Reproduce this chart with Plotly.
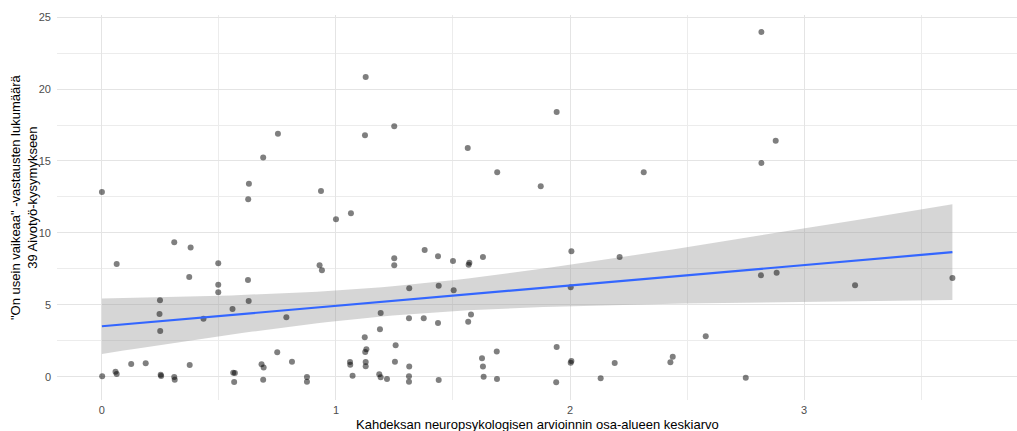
import numpy as np
import plotly.graph_objects as go

# Mean score over the eight neuropsychological sub-areas (jittered)
x_vals = [
    0.000, 0.625, 0.936, 0.628, 0.689, 0.752, 1.000, 1.064, 0.309, 0.379,
    0.063, 0.497, 0.930, 0.940, 0.373, 0.624, 0.497, 0.497, 0.248, 0.627,
    0.558, 0.246, 0.434, 0.788, 0.249, 0.749, 0.812, 0.125, 0.187, 0.375,
    0.682, 0.691, 1.060, 1.061, 0.058, 0.063, 0.001, 0.251, 0.253, 0.309,
    0.311, 0.561, 0.568, 0.565, 0.689, 0.876, 0.876, 1.071, 1.127, 1.124,
    1.249, 1.563, 1.943, 1.689, 1.875, 1.379, 1.249, 1.249, 1.436, 1.500,
    1.570, 1.567, 1.628, 2.006, 2.212, 1.313, 1.439, 1.503, 2.003, 1.191,
    1.312, 1.375, 1.436, 1.577, 1.565, 1.188, 1.123, 1.255, 1.130, 1.125,
    1.687, 1.943, 1.624, 1.127, 1.127, 1.252, 1.313, 1.628, 2.006, 2.003,
    2.191, 1.185, 1.191, 1.218, 1.312, 1.312, 1.439, 1.631, 1.688, 1.941,
    2.131, 2.818, 2.879, 2.818, 2.315, 2.816, 2.883, 3.218, 3.634, 2.580,
    2.439, 2.429, 2.751,
]

# Number of "On usein vaikeaa" answers (jittered)
y_vals = [
    12.85, 12.34, 12.92, 13.42, 15.25, 16.90, 10.95, 11.37, 9.35, 9.00,
    7.85, 7.90, 7.76, 7.41, 6.94, 6.74, 6.41, 5.88, 5.32, 5.28,
    4.72, 4.37, 4.05, 4.15, 3.19, 1.71, 1.06, 0.90, 0.95, 0.83,
    0.88, 0.65, 1.04, 0.85, 0.37, 0.21, 0.05, 0.16, 0.07, 0.00,
    -0.19, 0.30, 0.28, -0.35, -0.19, 0.00, -0.33, 0.09, 20.83, 16.78,
    17.41, 15.90, 18.40, 14.21, 13.24, 8.82, 8.24, 7.76, 8.38, 8.06,
    7.94, 7.80, 8.33, 8.73, 8.33, 6.16, 6.34, 6.02, 6.23, 4.44,
    4.07, 4.07, 3.75, 4.33, 3.84, 3.31, 2.76, 2.20, 1.92, 1.74,
    1.76, 2.08, 1.30, 1.04, 0.74, 1.06, 0.72, 0.72, 1.11, 0.99,
    0.97, 0.19, -0.02, -0.14, 0.05, -0.33, -0.21, 0.02, -0.14, -0.37,
    -0.09, 23.96, 16.41, 14.86, 14.21, 7.06, 7.24, 6.37, 6.88, 2.82,
    1.41, 1.02, -0.05,
]

x_ticks = [0, 1, 2, 3]
y_ticks = [0, 5, 10, 15, 20, 25]

x_title = "Kahdeksan neuropsykologisen arvioinnin osa-alueen keskiarvo"
y_title = '"On usein vaikeaa" -vastausten lukumäärä<br>39 Aivotyö-kysymykseen'

# Linear fit with 95 % confidence band
x = np.asarray(x_vals)
y = np.asarray(y_vals)
n = len(x)
slope, intercept = np.polyfit(x, y, 1)
resid = y - (intercept + slope * x)
s = np.sqrt(np.sum(resid ** 2) / (n - 2))
sxx = np.sum((x - x.mean()) ** 2)
t_crit = 1.9816  # t quantile 0.975, df = n - 2
xs = np.linspace(x.min(), x.max(), 80)
fit = intercept + slope * xs
se = s * np.sqrt(1.0 / n + (xs - x.mean()) ** 2 / sxx)
lower = fit - t_crit * se
upper = fit + t_crit * se

fig = go.Figure()
fig.add_trace(go.Scatter(
    x=np.concatenate([xs, xs[::-1]]), y=np.concatenate([upper, lower[::-1]]),
    fill="toself", fillcolor="rgba(153,153,153,0.4)", line=dict(width=0),
    mode="lines", hoverinfo="skip", showlegend=False,
))
fig.add_trace(go.Scatter(
    x=x_vals, y=y_vals, mode="markers",
    marker=dict(size=6, color="rgba(0,0,0,0.5)", line=dict(width=0)),
    showlegend=False,
))
fig.add_trace(go.Scatter(
    x=xs, y=fit, mode="lines", line=dict(color="#3366FF", width=2.2),
    showlegend=False,
))

tick_font = dict(family="Liberation Sans, Arial, sans-serif", size=11, color="#4d4d4d")
grid_major = "#e4e4e4"
grid_minor = "#ececec"

fig.update_layout(
    width=1017, height=431,
    margin=dict(l=57, r=0, t=15, b=31),
    paper_bgcolor="white", plot_bgcolor="white",
    font=dict(family="Liberation Sans, Arial, sans-serif", color="black"),
    xaxis=dict(
        range=[-0.192, 3.910], tickvals=x_ticks, ticks="", showline=False,
        zeroline=False, showgrid=True, gridcolor=grid_major, gridwidth=1.2,
        minor=dict(dtick=0.5, tick0=0, showgrid=True, gridcolor=grid_minor, gridwidth=1),
        tickfont=tick_font, ticklabelstandoff=2,
    ),
    yaxis=dict(
        range=[-1.6, 25.14], tickvals=y_ticks, ticks="", showline=False,
        zeroline=False, showgrid=True, gridcolor=grid_major, gridwidth=1.2,
        minor=dict(dtick=2.5, tick0=0, showgrid=True, gridcolor=grid_minor, gridwidth=1),
        tickfont=tick_font, ticklabelstandoff=5,
    ),
    annotations=[
        dict(text=x_title, xref="paper", yref="paper", x=0.5, y=-(425 - 400) / 385,
             xanchor="center", yanchor="middle", showarrow=False,
             font=dict(size=13, color="black")),
        dict(text=y_title, xref="paper", yref="paper", x=(24 - 57) / 960,
             y=(400 - 197) / 385, xanchor="center", yanchor="middle",
             textangle=-90, showarrow=False, font=dict(size=13, color="black")),
    ],
)

fig.write_html("out.html")
